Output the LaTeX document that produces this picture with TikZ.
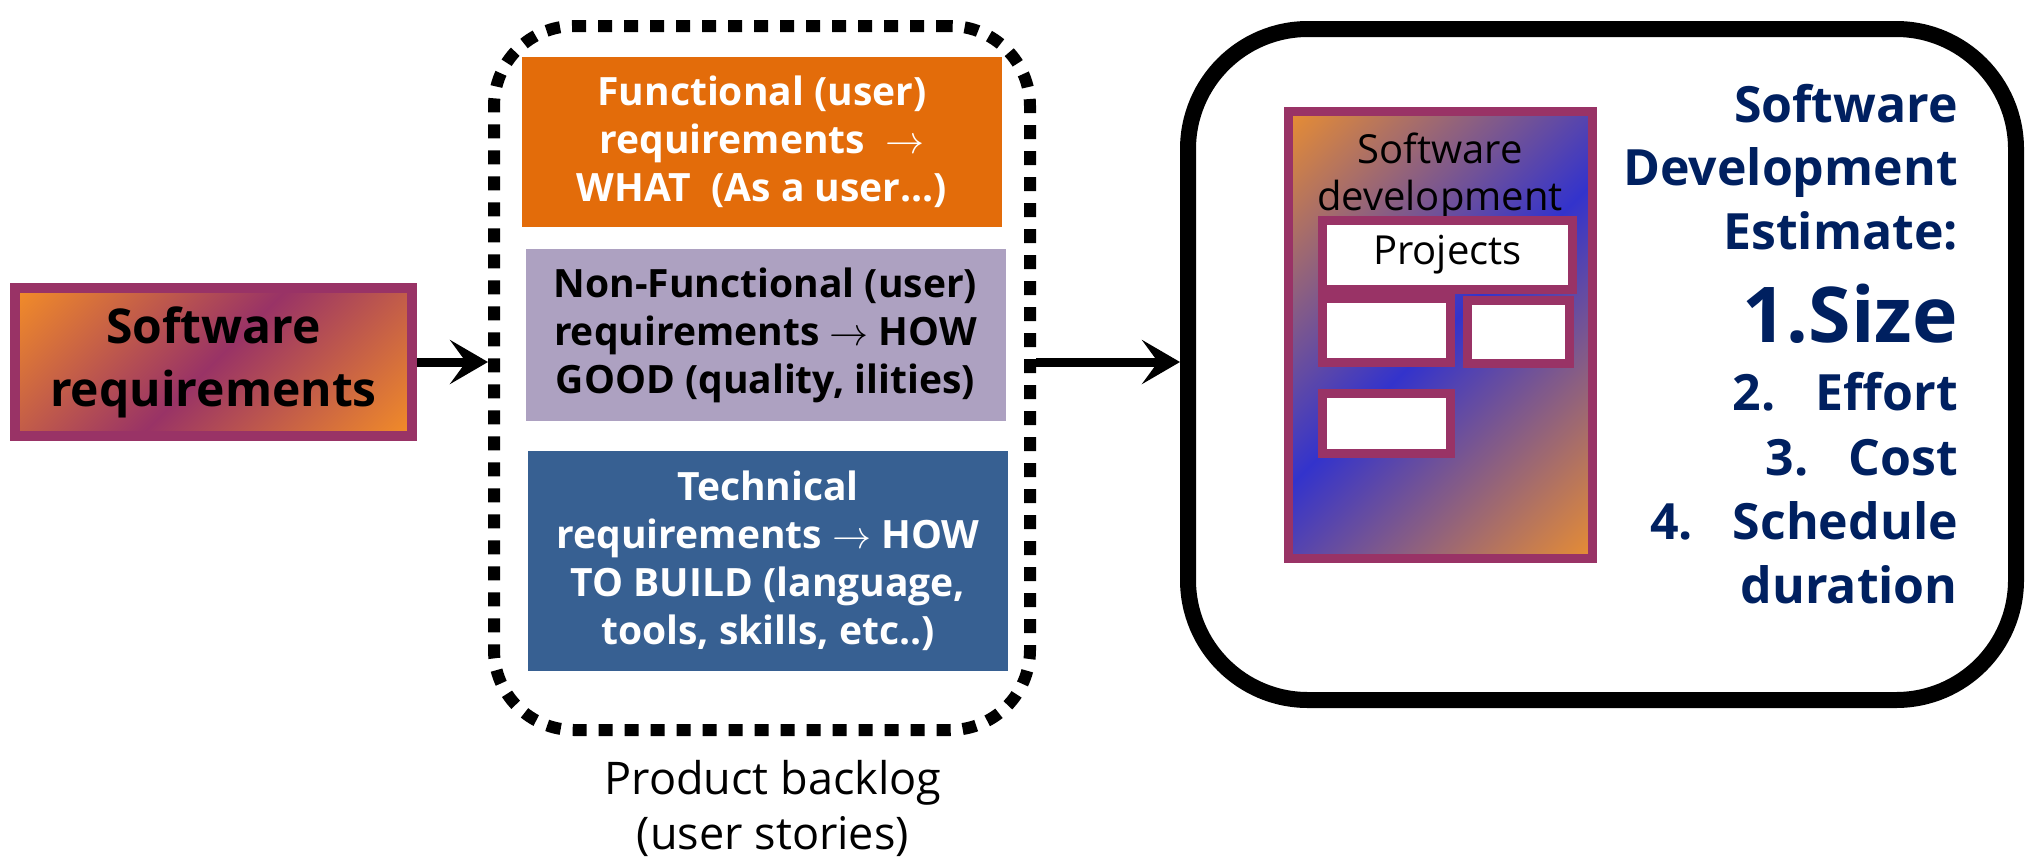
\documentclass[tikz,border=0pt]{standalone}
\usepackage{fix-cm}
\usepackage{fontspec}
\setmainfont{Open Sans}
\newfontfamily\boxfont{Open Sans}
\usetikzlibrary{arrows.meta}

\definecolor{plum}{HTML}{993366}
\definecolor{orng}{HTML}{FF991F}
\definecolor{rust}{HTML}{E36C0A}
\definecolor{lilac}{HTML}{ADA1C1}
\definecolor{steel}{HTML}{376092}
\definecolor{navy}{HTML}{002060}
\definecolor{royal}{HTML}{3333CC}

\pgfdeclarehorizontalshading{orpur}{100bp}{color(0bp)=(orng); color(10bp)=(orng); color(50bp)=(plum); color(90bp)=(orng); color(100bp)=(orng)}
\pgfdeclarehorizontalshading{orblu}{100bp}{color(0bp)=(orng); color(10bp)=(orng); color(50bp)=(royal); color(90bp)=(orng); color(100bp)=(orng)}

\tikzset{
  reqbox/.style={rectangle, align=center, minimum width=480pt, font=\boxfont\bfseries\fontsize{39}{48}\selectfont},
  slot/.style={rectangle, draw=plum, line width=9pt, fill=white},
  estline/.style={anchor=base east, inner sep=0pt, text=navy, font=\boxfont\bfseries\fontsize{50}{60}\selectfont},
  flow/.style={line width=9pt, -{Stealth[length=38pt,width=44pt,inset=16pt]}}
}

\begin{document}
\begin{tikzpicture}[x=1pt,y=-1pt]
        \useasboundingbox (0,0) rectangle (2026,860);

        \node[rectangle, draw=plum, line width=10pt, shading=orpur, shading angle=-45,
            minimum width=397pt, minimum height=148pt, align=center,
            font=\boxfont\bfseries\fontsize{48}{63}\selectfont] (req) at (213.5,362) {Software\\requirements};

        % product backlog
        \node[rectangle, draw, line width=12pt, dash pattern=on 14pt off 12pt, rounded corners=80pt,
            minimum width=536pt, minimum height=704pt] (back) at (762,378) {};
        \node[reqbox, fill=rust, text=white, minimum height=170pt] (func) at (762,141.5)
            {Functional (user)\\requirements~~$\rightarrow$\\WHAT~~(As a user...)};
        \node[reqbox, fill=lilac, text=black, minimum height=172pt] (nonf) at (765.5,335)
            {Non-Functional (user)\\requirements $\rightarrow$ HOW\\GOOD (quality, ilities)};
        \node[reqbox, fill=steel, text=white, minimum height=220pt] (tech) at (768,561)
            {Technical\\requirements $\rightarrow$ HOW\\TO BUILD (language,\\tools, skills, etc..)};
        \node[align=center, font=\boxfont\fontsize{45}{55}\selectfont] (lbl) at (773,808) {Product backlog\\(user stories)};

        % estimate
        \node[rectangle, draw, line width=16pt, rounded corners=120pt,
            minimum width=828pt, minimum height=671pt] (est) at (1602,364.5) {};
        \node[rectangle, draw=plum, line width=9pt, shading=orblu, shading angle=-45,
            minimum width=304pt, minimum height=447pt] (panel) at (1440.5,335) {};
        \node[align=center, font=\boxfont\fontsize{40}{47}\selectfont] (ptitle) at (1440,176) {Software\\development};
        \node[slot, minimum width=250pt, minimum height=69pt, font=\boxfont\fontsize{40}{47}\selectfont] (proj) at (1447.5,255) {Projects};
        \node[slot, minimum width=128pt, minimum height=64pt] (pa) at (1386.5,330.5) {};
        \node[slot, minimum width=102pt, minimum height=63pt] (pb) at (1518.5,332) {};
        \node[slot, minimum width=128pt, minimum height=60pt] (pc) at (1386.5,423.5) {};

        \node[estline] (e1) at (1958,122) {Software};
        \node[estline] (e2) at (1958,185) {Development};
        \node[estline] (e3) at (1958,249) {Estimate:};
        \node[estline, font=\boxfont\bfseries\fontsize{77}{80}\selectfont] (e4) at (1958,342) {1.Size};
        \node[estline] (e5) at (1958,410) {2.\hspace{0.8em}Effort};
        \node[estline] (e6) at (1958,475) {3.\hspace{0.8em}Cost};
        \node[estline] (e7) at (1958,539) {4.\hspace{0.8em}Schedule};
        \node[estline] (e8) at (1958,603) {duration};

        \draw[flow] (req.east) -- (req.east -| back.west);
        \draw[flow] (req.east -| back.east) -- (req.east -| est.west);
\end{tikzpicture}
\end{document}
